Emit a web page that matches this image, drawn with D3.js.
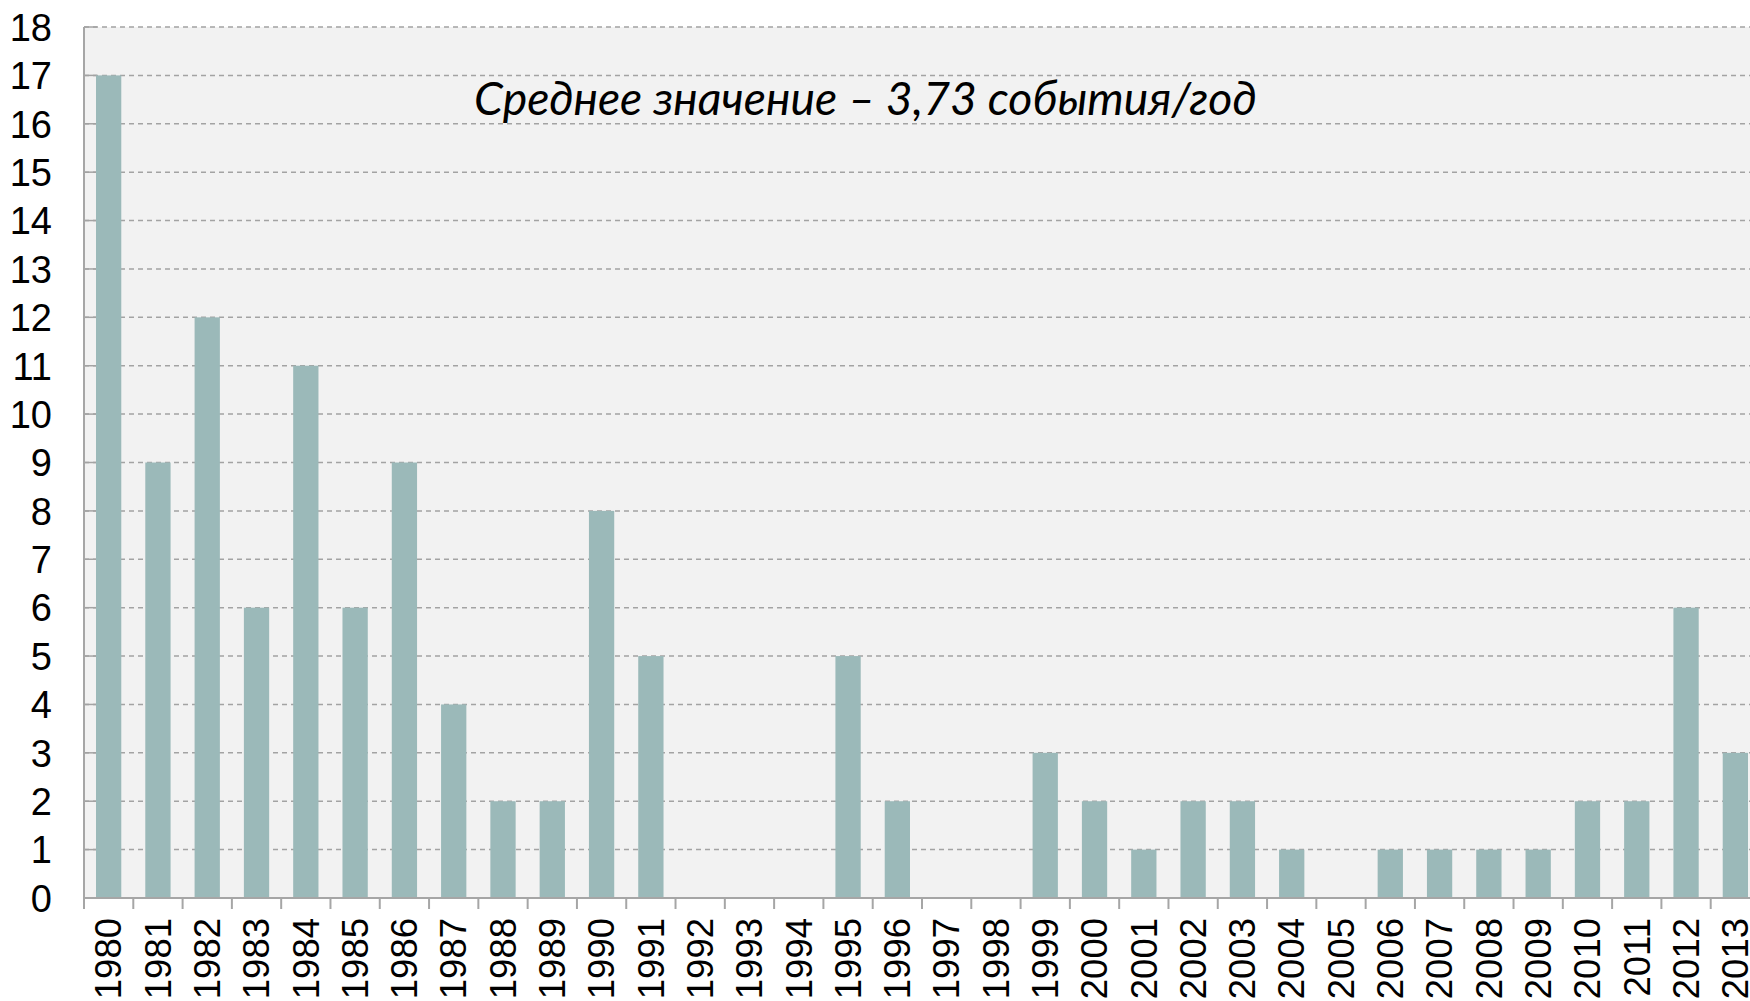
<!DOCTYPE html>
<html>
<head>
<meta charset="utf-8">
<script src="https://cdn.jsdelivr.net/npm/d3@7"></script>
<style>
  html, body { margin: 0; padding: 0; background: #ffffff; }
  svg { display: block; }
</style>
</head>
<body>
<svg id="chart" width="1750" height="1001"></svg>
<script>
const years = ["1980","1981","1982","1983","1984","1985","1986","1987","1988","1989","1990","1991","1992","1993","1994","1995","1996","1997","1998","1999","2000","2001","2002","2003","2004","2005","2006","2007","2008","2009","2010","2011","2012","2013"];
const events = [17,9,12,6,11,6,9,4,2,2,8,5,0,0,0,5,2,0,0,3,2,1,2,2,1,0,1,1,1,1,2,2,6,3];
const yTicks = [0,1,2,3,4,5,6,7,8,9,10,11,12,13,14,15,16,17,18];
const titleText = "Среднее значение – 3,73 события/год";

const svg = d3.select("#chart");
const pLeft = 84, pRight = 1760, pTop = 27, pBottom = 898;

const x = d3.scaleBand().domain(years).range([pLeft, pRight]).paddingInner(0.487).paddingOuter(0.2435);
const y = d3.scaleLinear().domain([0, 18]).range([pBottom, pTop]);

// plot background
svg.append("rect").attr("x", pLeft).attr("y", pTop).attr("width", pRight - pLeft).attr("height", pBottom - pTop).attr("fill", "#f2f2f2");

// gridlines
svg.append("g").selectAll("line").data(yTicks.filter(d => d > 0)).join("line")
  .attr("x1", pLeft).attr("x2", pRight)
  .attr("y1", d => y(d)).attr("y2", d => y(d))
  .attr("stroke", "#a3a3a3").attr("stroke-width", 1.5)
  .attr("stroke-dasharray", "5,4");

// y inner ticks
svg.append("g").selectAll("line").data(yTicks).join("line")
  .attr("x1", pLeft).attr("x2", pLeft + 13)
  .attr("y1", d => y(d)).attr("y2", d => y(d))
  .attr("stroke", "#a3a3a3").attr("stroke-width", 1.5);

// bars
svg.append("g").selectAll("rect").data(years).join("rect")
  .attr("x", d => x(d)).attr("width", x.bandwidth())
  .attr("y", (d, i) => y(events[i]))
  .attr("height", (d, i) => y(0) - y(events[i]))
  .attr("fill", "#9bb9b9");

// axes lines
svg.append("line").attr("x1", pLeft).attr("x2", pLeft).attr("y1", pTop).attr("y2", pBottom + 11)
  .attr("stroke", "#a6a6a6").attr("stroke-width", 2);
svg.append("line").attr("x1", pLeft).attr("x2", pRight).attr("y1", pBottom).attr("y2", pBottom)
  .attr("stroke", "#a6a6a6").attr("stroke-width", 2);

// x ticks at band boundaries
const half = (x.step() - x.bandwidth()) / 2;
svg.append("g").selectAll("line").data(years).join("line")
  .attr("x1", d => x(d) - half).attr("x2", d => x(d) - half)
  .attr("y1", pBottom).attr("y2", pBottom + 11)
  .attr("stroke", "#a6a6a6").attr("stroke-width", 2);

// x labels
const xAxis = svg.append("g").attr("transform", `translate(0,${pBottom})`)
  .call(d3.axisBottom(x).tickSize(0));
xAxis.select(".domain").remove();
xAxis.selectAll("text")
  .attr("transform", "rotate(-90)")
  .attr("text-anchor", "end")
  .attr("x", -20).attr("y", 0).attr("dy", "0.35em")
  .attr("font-family", "Liberation Sans, Arial, sans-serif")
  .attr("font-size", 36.5).attr("fill", "#000");

// y labels
const yAxis = svg.append("g").attr("transform", `translate(${pLeft},0)`)
  .call(d3.axisLeft(y).tickValues(yTicks).tickSize(0).tickFormat(d3.format("d")));
yAxis.select(".domain").remove();
yAxis.selectAll("text")
  .attr("x", -32).attr("dy", "0.35em")
  .attr("font-family", "Liberation Sans, Arial, sans-serif")
  .attr("font-size", 38).attr("fill", "#000");

// title annotation
const t = svg.append("text")
  .attr("x", 474).attr("y", 115)
  .attr("font-family", "Lato, 'Open Sans', sans-serif")
  .attr("font-style", "italic")
  .attr("font-size", 46)
  .attr("fill", "#000")
  .text(titleText);
const w = t.node().getComputedTextLength();
t.attr("font-size", 46 * 783 / w);
</script>
</body>
</html>
